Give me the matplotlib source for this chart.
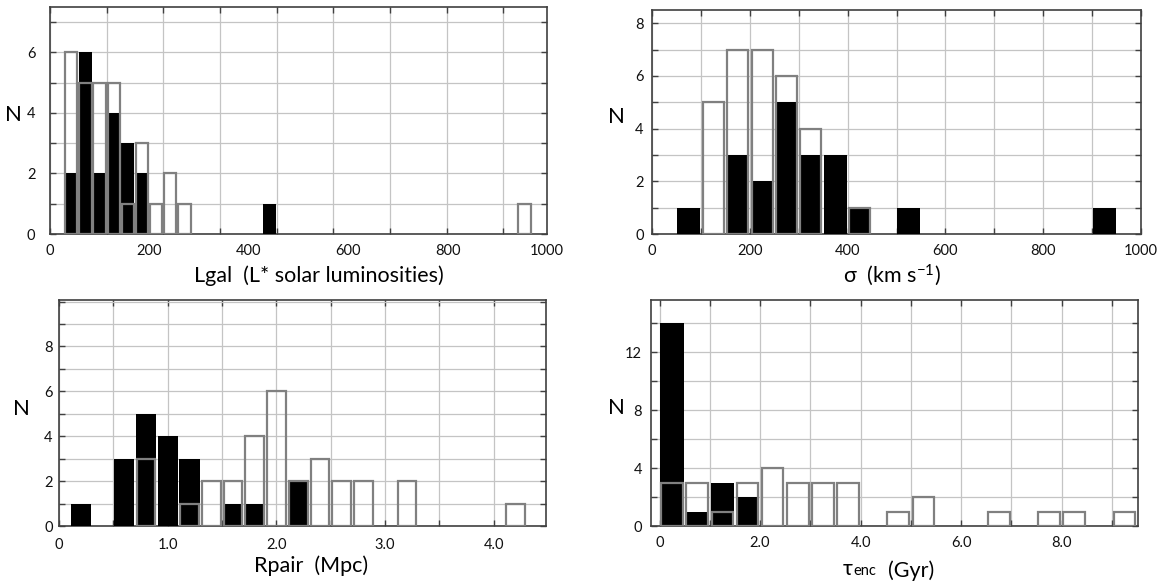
import numpy as np
import matplotlib
matplotlib.use("Agg")
import matplotlib.pyplot as plt
from matplotlib.ticker import FixedLocator, MultipleLocator

plt.rcParams["font.family"] = ["Lato", "Open Sans", "DejaVu Sans"]
plt.rcParams["mathtext.fontset"] = "custom"
plt.rcParams["mathtext.rm"] = "Lato"
plt.rcParams["mathtext.it"] = "Lato:italic"

# galaxy luminosity (L* units), bin width 28.5
lgal_bin = 28.5
lgal_black_left = [28.5, 57, 85.5, 114, 142.5, 171, 427.5]
lgal_black_n = [2, 6, 2, 4, 3, 2, 1]
lgal_open_left = [28.5, 57, 85.5, 114, 142.5, 171, 199.5, 228, 256.5, 940.5]
lgal_open_n = [6, 5, 5, 5, 1, 3, 1, 2, 1, 1]

# velocity dispersion (km/s)
sigma_bin = 50
sigma_black_left = [50, 150, 200, 250, 300, 350, 400, 500, 900]
sigma_black_n = [1, 3, 2, 5, 3, 3, 1, 1, 1]
sigma_open_left = [100, 150, 200, 250, 300, 400]
sigma_open_n = [5, 7, 7, 6, 4, 1]

# pair separation (Mpc)
rpair_bin = 0.2
rpair_black_left = [0.1, 0.5, 0.7, 0.9, 1.1, 1.5, 1.7, 2.1]
rpair_black_n = [1, 3, 5, 4, 3, 1, 1, 2]
rpair_open_left = [0.7, 1.1, 1.3, 1.5, 1.7, 1.9, 2.1, 2.3, 2.5, 2.7, 3.1, 4.1]
rpair_open_n = [3, 1, 2, 2, 4, 6, 2, 3, 2, 2, 2, 1]

# encounter time (Gyr)
tenc_bin = 0.5
tenc_black_left = [0.0, 0.5, 1.0, 1.5]
tenc_black_n = [14, 1, 3, 2]
tenc_open_left = [0.0, 0.5, 1.0, 1.5, 2.0, 2.5, 3.0, 3.5, 4.5, 5.0, 6.5, 7.5, 8.0, 9.0]
tenc_open_n = [3, 3, 1, 3, 4, 3, 3, 3, 1, 2, 1, 1, 1, 1]

W, H = 1159, 582
fig = plt.figure(figsize=(W / 100, H / 100), dpi=100)


def add_axes(left, top, right, bottom):
    return fig.add_axes([left / W, 1 - bottom / H, (right - left) / W, (bottom - top) / H])


def draw_hist(ax, width, black_left, black_n, open_left, open_n):
    ax.bar(np.array(black_left) + width / 2, black_n, width * 0.93,
           color="black", zorder=3)
    ax.bar(np.array(open_left) + width / 2, open_n, width * 0.86,
           facecolor="none", edgecolor="#808080", linewidth=1.6, zorder=4)


def style(ax, xlim, ylim, xticks, xlabels, xgrid, yticks, ygrid, xpad, ypad):
    ax.set_xlim(*xlim)
    ax.set_ylim(*ylim)
    ax.xaxis.set_major_locator(FixedLocator(xticks))
    ax.set_xticklabels(xlabels)
    ax.xaxis.set_minor_locator(MultipleLocator(xgrid))
    ax.yaxis.set_major_locator(FixedLocator(yticks))
    ax.yaxis.set_minor_locator(MultipleLocator(ygrid))
    ax.xaxis.remove_overlapping_locs = False
    ax.yaxis.remove_overlapping_locs = False
    ax.tick_params(which="major", length=0, labelsize=10.5, colors="#111111")
    ax.tick_params(axis="x", which="major", pad=xpad)
    ax.tick_params(axis="y", which="major", pad=ypad)
    ax.tick_params(which="minor", direction="in", length=4, width=1,
                   color="#404040", top=True, right=True)
    ax.grid(which="minor", color="#c4c4c4", linewidth=0.9)
    ax.set_axisbelow(True)
    for sp in ax.spines.values():
        sp.set_color("#404040")
        sp.set_linewidth(1.2)


def label_n(x, y):
    fig.text(x / W, 1 - y / H, "N", fontsize=16, ha="center", va="center")


# top left: luminosity
ax1 = add_axes(50, 7, 547, 234)
draw_hist(ax1, lgal_bin, lgal_black_left, lgal_black_n, lgal_open_left, lgal_open_n)
style(ax1, (0, 1000), (0, 7.5), [0, 200, 400, 600, 800, 1000],
      ["0", "200", "400", "600", "800", "1000"], 4 * lgal_bin, [0, 2, 4, 6], 1, 7.5, 10.5)
label_n(13, 115)
fig.text(319 / W, 1 - 282 / H, "Lgal  (L* solar luminosities)", fontsize=15.5,
         ha="center", va="baseline")

# top right: velocity dispersion
ax2 = add_axes(652, 10, 1141, 234)
draw_hist(ax2, sigma_bin, sigma_black_left, sigma_black_n, sigma_open_left, sigma_open_n)
style(ax2, (0, 1000), (0, 8.5), [0, 200, 400, 600, 800, 1000],
      ["0", "200", "400", "600", "800", "1000"], 100, [0, 2, 4, 6, 8], 1, 7.5, 6)
label_n(616, 117)
fig.text(892 / W, 1 - 282 / H, "σ  (km s$^{-1}$)", fontsize=15.5,
         ha="center", va="baseline")

# bottom left: pair separation
ax3 = add_axes(59, 300, 546, 526)
draw_hist(ax3, rpair_bin, rpair_black_left, rpair_black_n, rpair_open_left, rpair_open_n)
style(ax3, (0, 4.48), (0, 10.07), [0, 1, 2, 3, 4],
      ["0", "1.0", "2.0", "3.0", "4.0"], 0.5, [0, 2, 4, 6, 8], 1, 8.5, 4.5)
label_n(21, 409)
fig.text(311 / W, 1 - 572 / H, "Rpair  (Mpc)", fontsize=15.5,
         ha="center", va="baseline")

# bottom right: encounter time
ax4 = add_axes(651, 300, 1138, 526)
draw_hist(ax4, tenc_bin, tenc_black_left, tenc_black_n, tenc_open_left, tenc_open_n)
style(ax4, (-0.17, 9.52), (0, 15.6), [0, 2, 4, 6, 8],
      ["0", "2.0", "4.0", "6.0", "8.0"], 1, [0, 4, 8, 12], 2, 7, 6.5)
label_n(616, 408)
tau = fig.text(843 / W, 1 - 575 / H, "τ", fontsize=15.5, ha="left", va="baseline")
enc = ax4.annotate("enc", xy=(1, 0), xycoords=tau, xytext=(0.5, 0.8),
                   textcoords="offset points", fontsize=10.5, va="bottom")
ax4.annotate("  (Gyr)", xy=(1, 0), xycoords=enc, xytext=(0, -2.0),
             textcoords="offset points", fontsize=15.5, va="bottom")

fig.savefig("out.png", dpi=100)
